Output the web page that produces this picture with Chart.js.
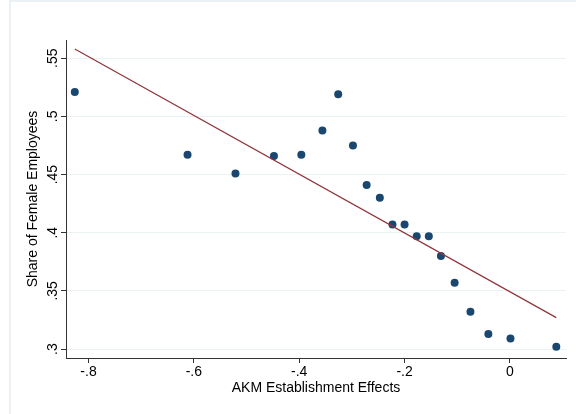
<!DOCTYPE html>
<html>
<head>
<meta charset="utf-8">
<script src="https://cdn.jsdelivr.net/npm/chart.js@4/dist/chart.umd.min.js"></script>
<style>
  body { margin: 0; background: #fff; }
  #wrap { position: relative; width: 576px; height: 414px; overflow: hidden; background: #fff; }
  #frame { position: absolute; left: 9px; top: 0; width: 640px; height: 480px; border: 2px solid #eaf0f3; box-sizing: border-box; }
  #chart { position: absolute; left: 0; top: 0; }
</style>
</head>
<body>
<div id="wrap">
  <div id="frame"></div>
  <canvas id="chart" width="576" height="414"></canvas>
</div>
<script>
// binned establishment effects and share of women in each bin
const effects = [-0.826, -0.612, -0.521, -0.448, -0.396, -0.356, -0.326, -0.298, -0.272, -0.247,
                 -0.223, -0.200, -0.177, -0.154, -0.131, -0.105, -0.075, -0.041, 0.001, 0.088];
const femaleShare = [0.521, 0.467, 0.451, 0.466, 0.467, 0.488, 0.519, 0.475, 0.441, 0.430,
                     0.407, 0.407, 0.397, 0.397, 0.380, 0.357, 0.332, 0.313, 0.309, 0.302];

// linear fit endpoints
const fitX = [-0.826, 0.088];
const fitY = [0.558, 0.327];

// axis ticks and their labels
const xTicks = [-0.8, -0.6, -0.4, -0.2, 0];
const xTickLabels = ['-.8', '-.6', '-.4', '-.2', '0'];
const yTicks = [0.3, 0.35, 0.4, 0.45, 0.5, 0.55];
const yTickLabels = ['.3', '.35', '.4', '.45', '.5', '.55'];

const font = { family: '"Liberation Sans", Arial, sans-serif', size: 14 };

function setTicks(values) {
    return function(scale) {
        scale.ticks = values.map(v => ({ value: v }));
    };
}

new Chart(document.getElementById('chart'), {
    type: 'scatter',
    data: {
        datasets: [{
            label: 'Fitted values',
            data: fitX.map((x, i) => ({ x: x, y: fitY[i] })),
            showLine: true,
            borderColor: '#90353b',
            borderWidth: 1.2,
            pointRadius: 0,
            order: 0
        }, {
            label: 'Share of Female Employees',
            data: effects.map((x, i) => ({ x: x, y: femaleShare[i] })),
            backgroundColor: '#1a476f',
            borderWidth: 0,
            pointRadius: 4,
            order: 1
        }]
    },
    options: {
        responsive: false,
        animation: false,
        layout: { padding: { left: 0, top: 40, right: 10, bottom: 0 } },
        plugins: { legend: { display: false }, tooltip: { enabled: false } },
        scales: {
            x: {
                type: 'linear',
                min: -0.8427,
                max: 0.1064,
                afterBuildTicks: setTicks(xTicks),
                afterFit: function(scale) { scale.height = 56; },
                ticks: {
                    autoSkip: false,
                    maxRotation: 0,
                    padding: 1,
                    color: '#000',
                    font: font,
                    callback: function(value) { return xTickLabels[xTicks.indexOf(value)]; }
                },
                grid: { drawOnChartArea: false, tickLength: 5, tickColor: '#333', tickWidth: 1 },
                border: { color: '#333', width: 1 },
                title: {
                    display: true,
                    text: 'AKM Establishment Effects',
                    color: '#000',
                    font: font,
                    padding: { top: 0, bottom: 17 }
                }
            },
            y: {
                type: 'linear',
                min: 0.2923,
                max: 0.5657,
                afterBuildTicks: setTicks(yTicks),
                afterFit: function(scale) { scale.width = 66; },
                ticks: {
                    autoSkip: false,
                    minRotation: 90,
                    maxRotation: 90,
                    crossAlign: 'center',
                    padding: -2,
                    color: '#000',
                    font: font,
                    callback: function(value) { return yTickLabels[yTicks.indexOf(value)]; }
                },
                grid: { color: '#eaf2f3', lineWidth: 1, tickLength: 5, tickColor: '#333', tickWidth: 1 },
                border: { color: '#333', width: 1 },
                title: {
                    display: true,
                    text: 'Share of Female Employees',
                    color: '#000',
                    font: font,
                    padding: { top: 25, bottom: 0 }
                }
            }
        }
    }
});
</script>
</body>
</html>
